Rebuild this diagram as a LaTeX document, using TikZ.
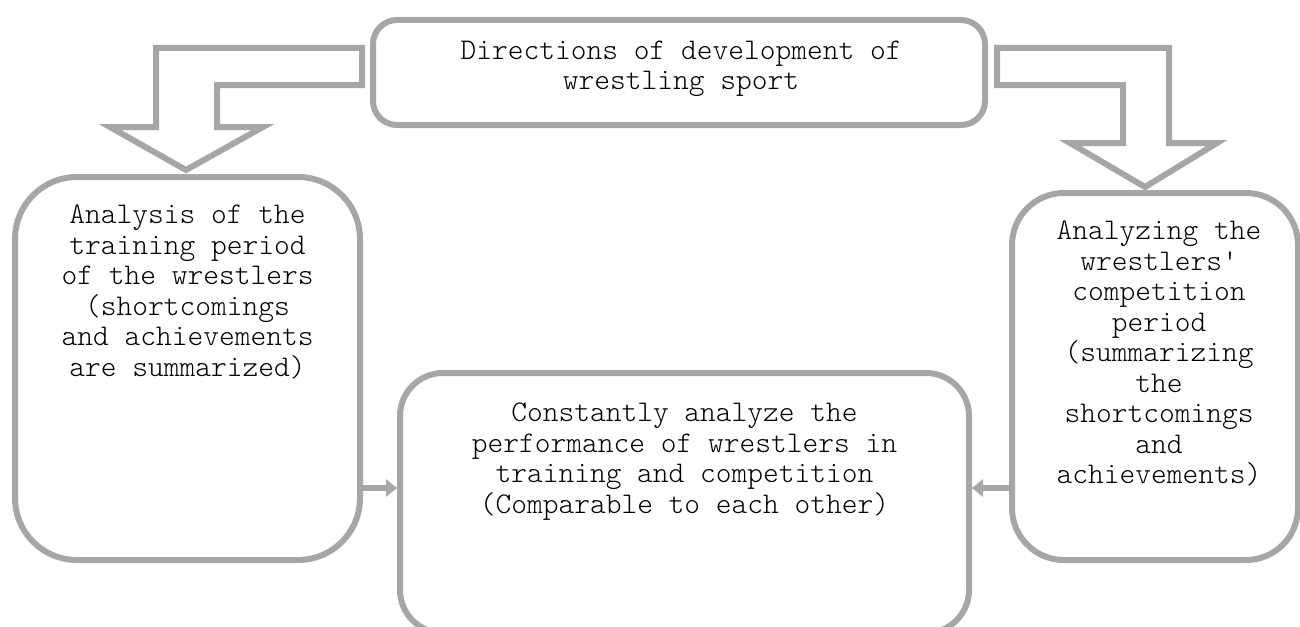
\documentclass[tikz,border=0pt]{standalone}
\usepackage{tikz}
\usetikzlibrary{arrows.meta,positioning}
\definecolor{framegray}{HTML}{A6A6A6}
\tikzstyle{frame} = [draw=framegray, line width=6pt, fill=white, inner sep=0pt]
\tikzstyle{caption} = [align=center, inner sep=0pt, font=\ttfamily\fontseries{l}\fontsize{30}{30.5}\selectfont]
\tikzstyle{feed} = [draw=framegray, line width=6pt, -{Triangle[length=11pt,width=17pt]}]
\tikzstyle{bent} = [draw=framegray, line width=6pt]

\begin{document}
\begin{tikzpicture}[x=1pt, y=-1pt]
  \useasboundingbox (0,0) rectangle (1300,626);

  % BOXES
  % top box
  \node[frame, rounded corners=24pt, minimum width=612pt, minimum height=105pt] (dir) at (679,72.5) {};
  \node[caption] (dirtext) at (681,69) {Directions of development of\\wrestling sport};
  % left box
  \node[frame, rounded corners=62pt, minimum width=345pt, minimum height=383pt] (train) at (187.5,368.5) {};
  \node[caption, below=31pt of train.north] (traintext)
    {Analysis of the\\training period\\of the wrestlers\\(shortcomings\\and achievements\\are summarized)};
  % right box
  \node[frame, rounded corners=52pt, minimum width=286pt, minimum height=367pt] (comp) at (1155,376.5) {};
  \node[caption, below=31pt of comp.north, xshift=4pt] (comptext)
    {Analyzing the\\wrestlers\textquotesingle\\competition\\period\\(summarizing\\the\\shortcomings\\and\\achievements)};
  % bottom box, runs off the lower edge
  \node[frame, rounded corners=43pt, minimum width=569pt, minimum height=260pt] (perf) at (684.5,503) {};
  \node[caption, below=33pt of perf.north] (perftext)
    {Constantly analyze the\\performance of wrestlers in\\training and competition\\(Comparable to each other)};

  % BENT ARROWS
  % left one
  \draw[bent] (362,48) -- (156,48) -- (156,127) -- (110,127) -- (186,170)
    -- (263,127) -- (217,127) -- (217,85) -- (362,85) -- cycle;
  % right one
  \draw[bent] (997,48) -- (1169,48) -- (1169,143) -- (1217,143) -- (1145,187)
    -- (1070,143) -- (1123,143) -- (1123,85) -- (997,85) -- cycle;

  % SIDE ARROWS
  \coordinate (feedL) at ([yshift=15pt]perf.west);
  \coordinate (feedR) at ([yshift=15pt]perf.east);
  \draw[feed] (train.east |- feedL) -- (feedL);
  \draw[feed] (comp.west |- feedR) -- (feedR);
\end{tikzpicture}
\end{document}
